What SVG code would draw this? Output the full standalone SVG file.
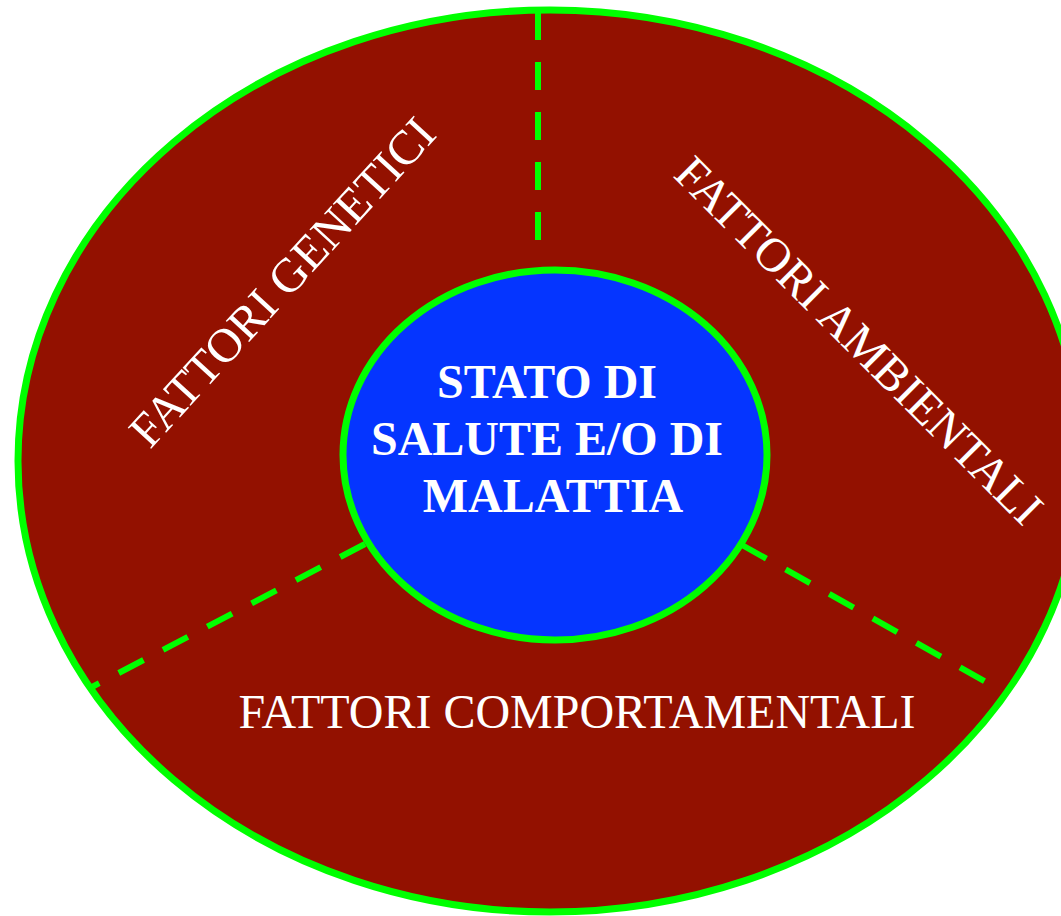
<svg xmlns="http://www.w3.org/2000/svg" width="1061" height="916" viewBox="0 0 1061 916">
<style>
.ring{stroke:#00ff00;stroke-width:7}
.dash{stroke:#00ff00;stroke-width:6;stroke-dasharray:28 22;fill:none}
.lbl{font-family:"Liberation Serif","Times New Roman",serif;font-size:48px;fill:#ffffff}
.core{font-family:"Liberation Serif","Times New Roman",serif;font-size:48px;font-weight:bold;fill:#ffffff;text-anchor:middle}
</style>
<rect width="1061" height="916" fill="#ffffff"/>
<g id="outer">
<ellipse cx="550" cy="461" rx="532" ry="451" fill="#931100" class="ring"/>
</g>
<g id="connectors">
<line x1="538" y1="12" x2="538" y2="243" class="dash"/>
<line x1="365" y1="544" x2="92" y2="687" class="dash"/>
<line x1="742" y1="545" x2="988" y2="683" class="dash"/>
</g>
<g id="genetici">
<text class="lbl" transform="translate(150,450) rotate(-47.5)">FATTORI GENETICI</text>
</g>
<g id="ambientali">
<text class="lbl" transform="translate(672,176) rotate(45)">FATTORI AMBIENTALI</text>
</g>
<g id="comportamentali">
<text class="lbl" x="577" y="728" text-anchor="middle">FATTORI COMPORTAMENTALI</text>
</g>
<g id="center">
<ellipse cx="555" cy="455" rx="212" ry="185" fill="#0535ff" class="ring"/>
<text class="core" x="547" y="398">STATO DI</text>
<text class="core" x="547" y="455">SALUTE E/O DI</text>
<text class="core" x="553" y="512">MALATTIA</text>
</g>
</svg>
